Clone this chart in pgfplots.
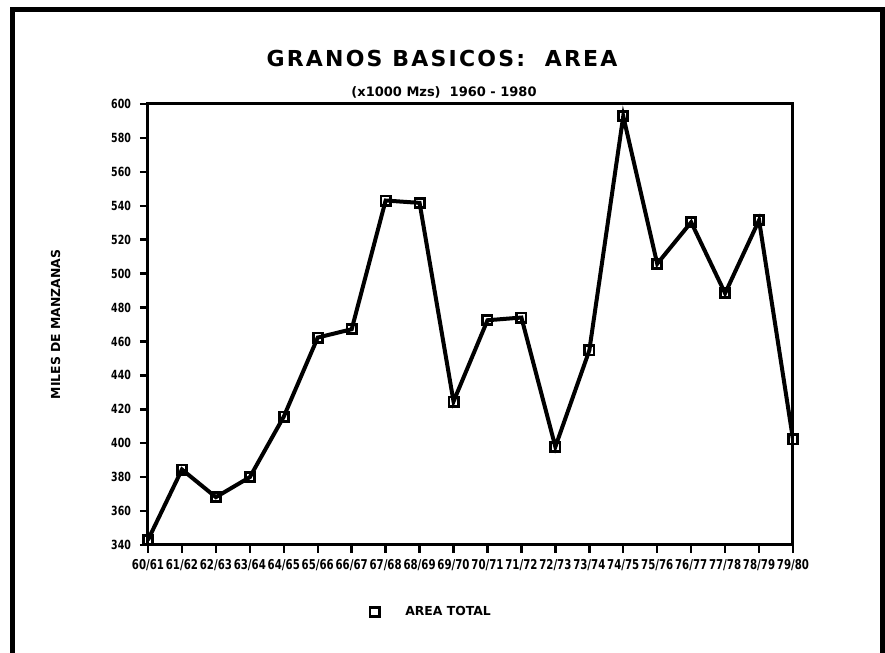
\documentclass[border=0pt]{standalone}
\usepackage{fontspec}
\usepackage{pgfplots}
\pgfplotsset{compat=1.18}
\setmainfont{DejaVu Sans}
\newfontfamily\narrowfont[FakeStretch=0.75]{DejaVu Sans}
\newfontfamily\titlefont[LetterSpace=10]{DejaVu Sans}

% area of basic grains, thousand manzanas, 1960/61 - 1979/80
\pgfplotstableread{
x y
0  343.0
1  384.5
2  368.2
3  380.0
4  415.7
5  462.3
6  467.2
7  543.1
8  541.7
9  424.6
10 472.5
11 474.1
12 397.9
13 454.7
14 592.8
15 505.8
16 530.3
17 488.4
18 531.5
19 402.3
}\areadata

\begin{document}
\begin{tikzpicture}[x=0.5pt,y=0.5pt]
\useasboundingbox (0,0) rectangle (885,653);
% open frame (no bottom edge)
\draw[line width=2.5pt] (12,0) -- (12,643) -- (882,643) -- (882,0);
\node[font=\titlefont\bfseries\fontsize{11}{12}\selectfont] at (442,595) {GRANOS BASICOS:\ \ AREA};
\node[font=\bfseries\fontsize{6.5}{7}\selectfont] at (444,561) {(x1000 Mzs)\ \ 1960\ -\ 1980};

\begin{axis}[
    at={(74pt,54pt)}, anchor=south west,
    scale only axis,
    width=322.5pt, height=220.5pt,
    xmin=0, xmax=19,
    ymin=340, ymax=600,
    xtick={0,...,19},
    xticklabels={60/61,61/62,62/63,63/64,64/65,65/66,66/67,67/68,68/69,69/70,70/71,71/72,72/73,73/74,74/75,75/76,76/77,77/78,78/79,79/80},
    ytick={340,360,...,600},
    xtick pos=left, ytick pos=left,
    tick align=outside,
    major tick length=4pt,
    axis line style={line width=1.5pt},
    every tick/.style={black, line width=1.2pt},
    /pgf/number format/assume math mode=true,
    yticklabel style={font=\narrowfont\bfseries\fontsize{6.3}{7}\selectfont, xshift=-1pt},
    xticklabel style={font=\narrowfont\bfseries\fontsize{6.8}{7}\selectfont, inner sep=0pt, yshift=-3pt},
    ylabel={MILES DE MANZANAS},
    ylabel style={font=\bfseries\fontsize{6.2}{7}\selectfont, at={(axis description cs:-0.125,0.5)}},
    legend style={at={(axis description cs:0.441,-0.152)}, anchor=center, draw=none, fill=none,
        font=\bfseries\fontsize{6.2}{7}\selectfont},
    legend cell align=left,
    legend image code/.code={\draw[#1, only marks] plot coordinates {(0pt,0pt)};},
]
\addplot[black, line width=2pt, mark=square, mark size=2.3pt,
    mark options={solid, line width=1.4pt, fill=white}] table[x=x,y=y] {\areadata};
\addlegendentry{\hspace{11pt}AREA TOTAL}
\end{axis}
\end{tikzpicture}
\end{document}
